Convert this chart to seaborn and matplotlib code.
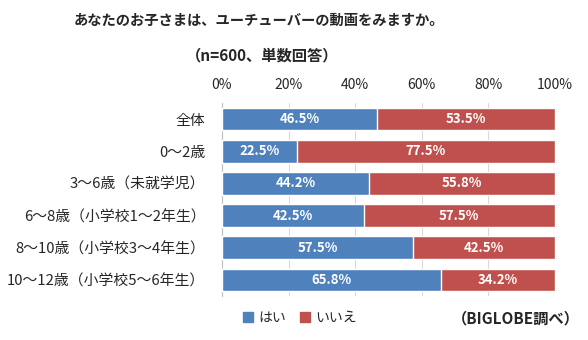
import matplotlib
matplotlib.use("Agg")
import matplotlib.pyplot as plt
import seaborn as sns
import pandas as pd
from matplotlib.patches import Patch

categories = ["全体", "0～2歳", "3～6歳（未就学児）", "6～8歳（小学校1～2年生）",
              "8～10歳（小学校3～4年生）", "10～12歳（小学校5～6年生）"]
yes_vals = [46.5, 22.5, 44.2, 42.5, 57.5, 65.8]
no_vals = [53.5, 77.5, 55.8, 57.5, 42.5, 34.2]
series_names = ["はい", "いいえ"]
tick_vals = [0, 20, 40, 60, 80, 100]

sns.set_theme(style="white")
plt.rcParams['font.family'] = ['Noto Sans CJK JP', 'DejaVu Sans']

blue = "#4F81BD"
red = "#C0504D"

df = pd.DataFrame({"cat": categories, "yes": yes_vals, "no": no_vals})
df["total"] = df["yes"] + df["no"]

fig = plt.figure(figsize=(5.88, 3.40), dpi=100)
ax = fig.add_axes([222/588, 1-296/340, (555-222)/588, (296-103)/340])

sns.barplot(data=df, y="cat", x="total", orient="h", color=red, width=0.7,
            ax=ax, saturation=1, zorder=3)
sns.barplot(data=df, y="cat", x="yes", orient="h", color=blue, width=0.7,
            ax=ax, saturation=1, zorder=4)

for i, (y, n) in enumerate(zip(yes_vals, no_vals)):
    ax.text(y/2, i, f"{y:.1f}%", ha="center", va="center", color="white",
            fontsize=9.5, fontweight="bold", zorder=5)
    ax.text(y + n/2, i, f"{n:.1f}%", ha="center", va="center", color="white",
            fontsize=9.5, fontweight="bold", zorder=5)

ax.set_xlim(0, 100)
ax.set_xticks(tick_vals)
ax.set_xticklabels([f"{t}%" for t in tick_vals], fontsize=10)
ax.xaxis.tick_top()
ax.tick_params(axis="x", length=0, pad=8)
ax.tick_params(axis="y", length=0, pad=12, labelsize=10.7)
ax.set_xlabel("")
ax.set_ylabel("")
ax.grid(axis="x", color="#D9D9D9", linewidth=0.8, zorder=0)
for s in ["top", "right", "bottom"]:
    ax.spines[s].set_visible(False)
ax.spines["left"].set_color("#BFBFBF")
ax.spines["left"].set_linewidth(0.8)

fig.text(259/588, 1-21/340, "あなたのお子さまは、ユーチューバーの動画をみますか。",
         ha="center", va="center", fontsize=10.3, fontweight="bold")
fig.text(262/588, 1-55/340, "（n=600、単数回答）",
         ha="center", va="center", fontsize=11, fontweight="bold")

handles = [Patch(color=blue, label=series_names[0]), Patch(color=red, label=series_names[1])]
fig.legend(handles=handles, loc="center", bbox_to_anchor=(300/588, 1-318/340), ncol=2,
           frameon=False, fontsize=10, handlelength=0.7, handleheight=0.7,
           handletextpad=0.4, columnspacing=1.0)

fig.text(580/588, 1-318/340, "（BIGLOBE調べ）", ha="right", va="center",
         fontsize=11, fontweight="bold")

fig.savefig("out.png", dpi=100)
